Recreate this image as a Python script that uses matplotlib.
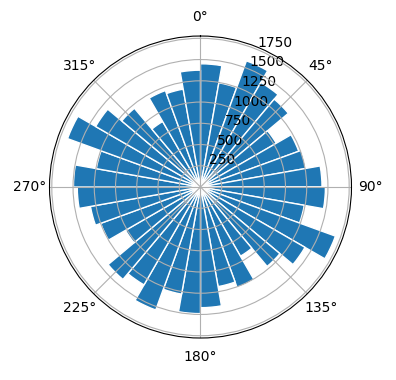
import numpy as np
import matplotlib
matplotlib.use('Agg')
import matplotlib.pyplot as plt

# Direções (início de cada faixa de 10 graus) e contagens
direcoes_graus = list(range(0, 360, 10))
contagens = [
    1450, 1245, 1580, 1420, 1350, 1030, 1230, 1260, 1430,
    1470, 1240, 1690, 1420, 1220, 940, 1260, 1190, 1420,
    1490, 1280, 1540, 1330, 1420, 1020, 1250, 1315, 1450,
    1495, 1245, 1665, 1425, 1210, 890, 1208, 1170, 1375,
]
largura_graus = 10


def plot_rosa():
    fig = plt.figure(figsize=(3.96, 3.8), dpi=100)
    ax = fig.add_axes([0.125, 0.1105, 0.7626, 0.7947], projection='polar')

    # Norte no topo, sentido horário
    ax.set_theta_zero_location('N')
    ax.set_theta_direction(-1)

    theta = np.deg2rad(direcoes_graus)
    ax.bar(theta, contagens, width=np.deg2rad(largura_graus), align='edge',
           color='#1f77b4', edgecolor='white', linewidth=1)

    ax.set_rticks([250, 500, 750, 1000, 1250, 1500, 1750])
    ax.set_ylim(0, 1777)

    fig.savefig('out.png', dpi=100)


if __name__ == '__main__':
    plot_rosa()
